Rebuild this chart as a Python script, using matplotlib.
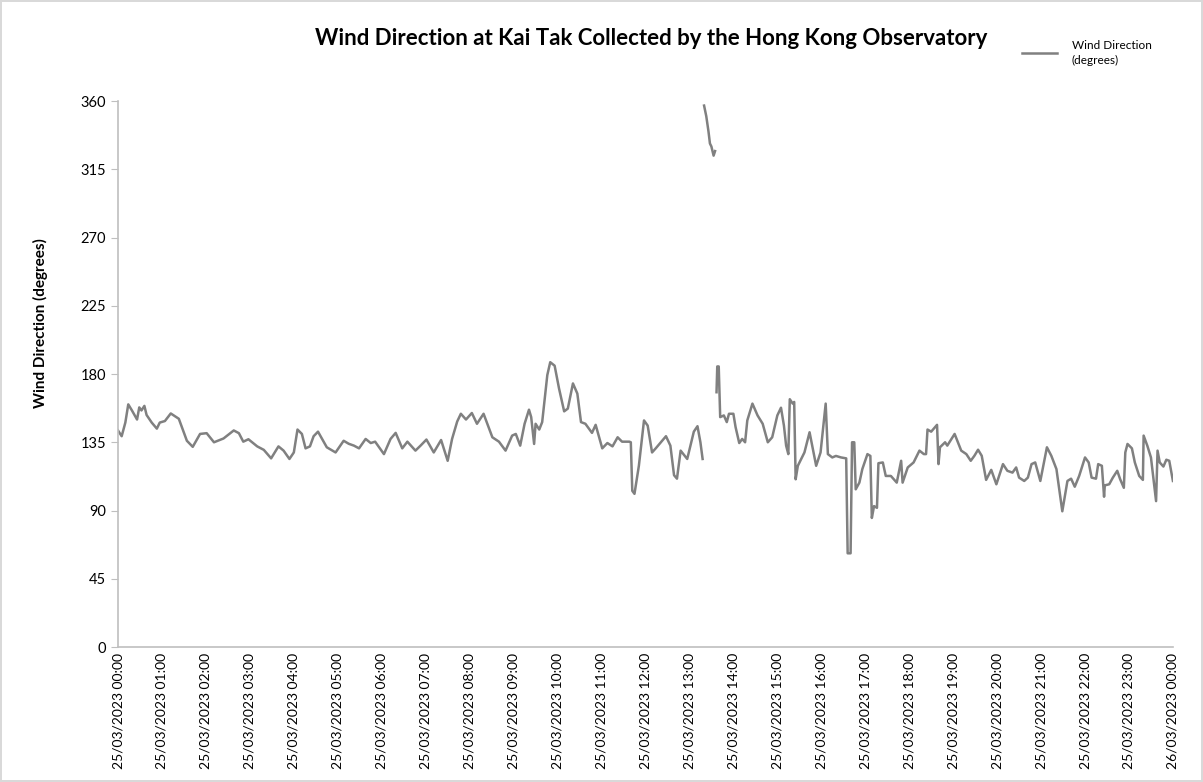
import numpy as np
import pandas as pd
import matplotlib
matplotlib.use("Agg")
import matplotlib.pyplot as plt
import matplotlib.dates as mdates

plt.rcParams['font.family'] = ['Lato', 'DejaVu Sans']

# minutes after 25/03/2023 00:00 and wind direction (degrees); NaN = missing reading
minutes = [0, 5, 10, 14, 19, 26, 29, 32, 36, 39, 46, 53, 57, 64, 72, 83, 94, 102, 112, 121,
           131, 144, 158, 165, 171, 178, 190, 199, 209, 219, 226, 234, 240, 245, 251, 256, 262, 267, 273, 278,
           285, 297, 308, 315, 322, 329, 338, 345, 351, 363, 372, 379, 388, 395, 406, 413, 421, 431, 441, 450,
           456, 463, 468, 475, 483, 490, 499, 511, 520, 529, 538, 543, 549, 555, 561, 564, 568, 570, 575, 579,
           586, 590, 596, 602, 609, 614, 621, 627, 632, 638, 647, 652, 661, 668, 675, 682, 688, 698, 700, 702,
           705, 711, 718, 723, 729, 734, 741, 748, 754, 759, 763, 768, 777, 786, 791, 795, 798, 799,
           800, 803, 806, 808, 810, 813, 815, 816,
           817, 818, 820, 822, 827, 831, 834, 840, 843, 848, 852, 856, 859, 866, 873, 880, 887, 893, 900, 905,
           909, 912, 915, 917, 921, 923, 925, 928, 937, 944, 953, 959, 966, 969, 975, 980, 987, 994, 996, 1000,
           1002, 1005, 1007, 1012, 1016, 1023, 1027, 1029, 1032, 1036, 1038, 1044, 1048, 1055, 1063, 1069, 1071, 1078, 1086, 1094,
           1100, 1103, 1105, 1110, 1118, 1120, 1122, 1129, 1132, 1142, 1151, 1158, 1164, 1169, 1174, 1179, 1185, 1192, 1199, 1208,
           1214, 1221, 1226, 1230, 1237, 1242, 1247, 1252, 1259, 1268, 1274, 1281, 1289, 1296, 1301, 1306, 1312, 1320, 1325, 1329,
           1335, 1338, 1343, 1346, 1347, 1353, 1358, 1364, 1368, 1373, 1375, 1378, 1384, 1388, 1394, 1399, 1400, 1405, 1410, 1414,
           1417, 1419, 1422, 1427, 1431, 1435, 1440]
direction = [142.8, 139, 148, 160, 156, 150, 158, 156, 159, 153, 148, 144, 148, 149, 154, 150.5, 136, 132, 140.5, 141,
             135, 137.5, 142.8, 141, 135.4, 137, 132.3, 130, 124.4, 132.3, 129.5, 124, 128.3, 143.4, 140.5, 131, 132.3, 139, 142, 137.7,
             131.7, 128.3, 136, 134, 132.8, 131, 137.2, 134.5, 135.4, 127.2, 137.2, 141.2, 131, 135.4, 129.5, 132.8, 136.8, 128.3, 136.5, 122.8,
             137.2, 148.7, 153.8, 150, 154.3, 147.2, 153.8, 138.3, 135.4, 129.5, 139.4, 140.5, 132.8, 147.2, 156.5, 151.6, 133.9, 147.2, 143.4, 148.3,
             179.3, 187.8, 185.5, 170.5, 155.4, 157.2, 173.8, 167.1, 148.3, 147.2, 141.2, 146.5, 131, 134.5, 132.3, 138.3, 135.4, 135.4, 135, 103,
             101, 119.5, 149.4, 146, 128.3, 131, 135, 139, 132.8, 113.3, 111, 129.5, 124, 142, 145.6, 135, 124, np.nan,
             357, 350, 340, 332, 330, 324, 327, np.nan,
             168, 185, 185, 151.6, 152.7, 148.3, 153.8, 153.8, 145, 134.5, 137.2, 135, 149.4, 160.5, 152.7, 147.2, 135, 138.3, 152.7, 157.8,
             146, 132.8, 127.2, 163.4, 160.5, 161.6, 110.6, 119.5, 128.3, 141.6, 119.5, 128.3, 160.5, 127.2, 125, 126, 125, 124.4, 61.8, 61.8,
             135, 135, 104, 108.4, 117.3, 127.2, 126, 85.1, 92.9, 91.8, 121.2, 121.7, 112.8, 112.8, 108.4, 122.8, 108.4, 118.4, 121.7, 129.5,
             127.2, 127.2, 143.4, 142, 146.5, 120.6, 131.7, 135, 132.8, 140.5, 129.5, 127.2, 122.8, 126.1, 130.1, 126.1, 110.2, 116.8, 107.3, 120.6,
             116.2, 115, 118.4, 111.7, 109.5, 111.7, 120.6, 121.7, 109.5, 131.7, 126.1, 117.3, 89.5, 109.5, 111, 105.7, 112.8, 125, 121.7, 111.7,
             111, 120.6, 119.5, 99.1, 106.6, 107.3, 111.7, 116.2, 110.6, 105, 128.3, 133.9, 131, 121.7, 112.8, 110.2, 139.4, 132.8, 125, 108.4,
             96.2, 129.5, 121.7, 119, 123.5, 122.8, 109.5]

y_ticks = [0, 45, 90, 135, 180, 225, 270, 315, 360]

start = pd.Timestamp('2023-03-25 00:00')
times = start + pd.to_timedelta(minutes, unit='min')

fig = plt.figure(figsize=(12.03, 7.82), dpi=100)
fig.patch.set_edgecolor('#d9d9d9')
fig.patch.set_linewidth(1.5)
ax = fig.add_axes([0.0981, 0.1726, 0.8769, 0.6982])

ax.plot(times, direction, color='#808080', linewidth=1.8, label='Wind Direction\n(degrees)')

ax.set_ylim(0, 360)
ax.set_yticks(y_ticks)
ax.set_xlim(start, start + pd.Timedelta(hours=24))
ax.xaxis.set_major_locator(mdates.HourLocator(interval=1))
ax.xaxis.set_major_formatter(mdates.DateFormatter('%d/%m/%Y %H:%M'))
plt.setp(ax.get_xticklabels(), rotation=90, ha='center', va='top')

for side in ['top', 'right']:
    ax.spines[side].set_visible(False)
for side in ['left', 'bottom']:
    ax.spines[side].set_color('#bfbfbf')
    ax.spines[side].set_linewidth(1.2)
ax.tick_params(axis='y', colors='#bfbfbf', labelcolor='black', labelsize=10.5, length=5, direction='out')
ax.tick_params(axis='x', length=0, labelsize=10, labelcolor='black', pad=4)

fig.text(0.034, 0.587, 'Wind Direction (degrees)', rotation=90, ha='center', va='center',
         fontsize=11, fontweight='bold')
fig.text(0.5416, 0.951, 'Wind Direction at Kai Tak Collected by the Hong Kong Observatory',
         ha='center', va='center', fontsize=16, fontweight='bold')

leg = ax.legend(loc='upper left', bbox_to_anchor=(0.857, 1.112), frameon=False, fontsize=8.5,
                handlelength=3.0, handletextpad=1.2, borderpad=0, borderaxespad=0)
for t in leg.get_texts():
    t.set_linespacing(1.4)

fig.savefig('out.png', dpi=100)
